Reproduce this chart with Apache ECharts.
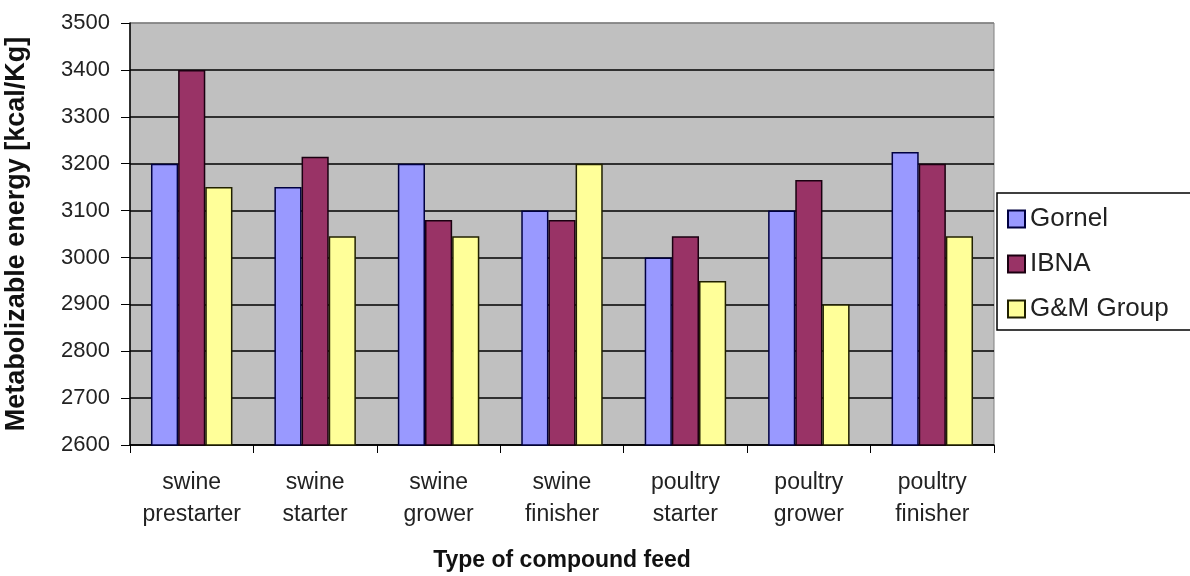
<!DOCTYPE html>
<html>
<head>
<meta charset="utf-8">
<script src="https://cdn.jsdelivr.net/npm/echarts@6/dist/echarts.min.js"></script>
<style>
html,body{margin:0;padding:0;background:#fff;}
#chart{width:1190px;height:576px;}
</style>
</head>
<body>
<div id="chart"></div>
<script>
const categories = ['swine\nprestarter','swine\nstarter','swine\ngrower','swine\nfinisher','poultry\nstarter','poultry\ngrower','poultry\nfinisher'];
const gornel = [3200, 3150, 3200, 3100, 3000, 3100, 3225];
const ibna   = [3400, 3215, 3080, 3080, 3045, 3165, 3200];
const gmGroup = [3150, 3045, 3045, 3200, 2950, 2900, 3045];
const seriesNames = ['Gornel', 'IBNA', 'G&M Group'];
const yAxisTitle = 'Metabolizable energy [kcal/Kg]';
const xAxisTitle = 'Type of compound feed';

const chart = echarts.init(document.getElementById('chart'), null, {renderer:'canvas'});
const font = 'Liberation Sans, Arial, sans-serif';
const splitColors = ['#000','#000','#000','#000','#000','#000','#000','#000','#000','#808080'];
function bar(name, data, color, border){
  return {
    name, type:'bar', data,
    barGap:'0%', barCategoryGap:'34%',
    itemStyle:{color, borderColor:border, borderWidth:1.5},
    emphasis:{disabled:true}
  };
}
chart.setOption({
  animation:false,
  backgroundColor:'#fff',
  grid:{left:130, right:196, top:23, bottom:131, outerBoundsMode:'none', containLabel:false,
        show:true, backgroundColor:'#C0C0C0', borderColor:'#808080', borderWidth:1},
  legend:{
    orient:'vertical', left:997, top:193,
    data:seriesNames,
    icon:'rect', itemWidth:17, itemHeight:17, itemGap:19,
    padding:[13,60,8,10],
    borderColor:'#000', borderWidth:1.5, backgroundColor:'#fff',
    textStyle:{fontFamily:font, fontSize:26, lineHeight:26, color:'#222'}
  },
  xAxis:{
    type:'category', data:categories,
    name:xAxisTitle, nameLocation:'middle', nameGap:104,
    nameTextStyle:{fontFamily:font, fontSize:23, fontWeight:'bold', color:'#111'},
    axisLine:{lineStyle:{color:'#000', width:1.5}},
    axisTick:{show:true, length:8, lineStyle:{color:'#000'}},
    axisLabel:{fontFamily:font, fontSize:23, lineHeight:32, color:'#222', margin:22, interval:0}
  },
  yAxis:{
    type:'value', min:2600, max:3500, interval:100,
    name:yAxisTitle, nameLocation:'middle', nameGap:100,
    nameTextStyle:{fontFamily:font, fontSize:27, fontWeight:'bold', color:'#111'},
    axisLine:{show:true, lineStyle:{color:'#000', width:1.5}},
    axisTick:{show:true, length:9, lineStyle:{color:'#000'}},
    axisLabel:{fontFamily:font, fontSize:22, color:'#222', margin:20, formatter:function(v){return String(v);}},
    splitLine:{show:true, lineStyle:{color:splitColors, width:1.5}}
  },
  series:[
    bar(seriesNames[0], gornel, '#9999FF', '#000040'),
    bar(seriesNames[1], ibna, '#993366', '#1a0010'),
    bar(seriesNames[2], gmGroup, '#FFFF99', '#202000')
  ]
});
</script>
</body>
</html>
